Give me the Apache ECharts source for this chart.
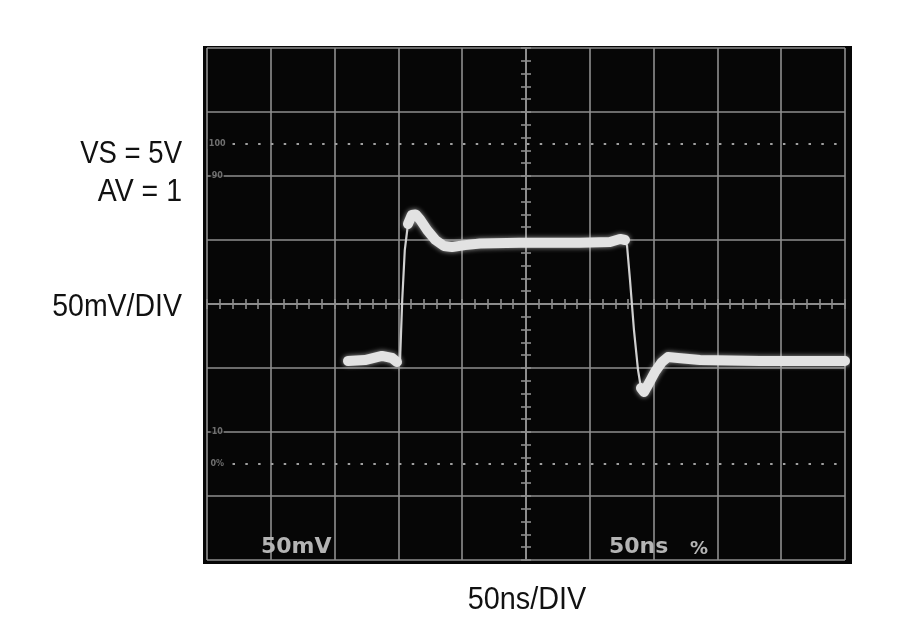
<!DOCTYPE html>
<html>
<head>
<meta charset="utf-8">
<script src="https://cdn.jsdelivr.net/npm/echarts@6/dist/echarts.min.js"></script>
<style>
html,body{margin:0;padding:0;background:#fff;}
#main{width:900px;height:630px;}
</style>
</head>
<body>
<div id="main"></div>
<script>
// Time relative to screen centre (ns) and trace level (mV)
const timeNs = [-139.5,-126.2,-112.9,-105.0,-101.1,-98.7,-97.0,-95.0,-92.5,-89.5,-86.5,-83.0,-77.5,-71.0,-64.3,-58.0,-47.8,-36.0,-4.7,42.3,65.8,73.7,77.6,79.2,81.5,84.6,87.8,90.1,92.5,95.6,101.1,106.6,111.3,119.1,136.4,183.4,214.7,250.0];
const traceMv = [-44.5,-43.8,-40.6,-42.2,-45.3,-43.8,3.1,42.0,62.5,69.5,70.0,66.0,57.8,50.0,45.3,44.5,46.0,47.3,47.9,47.9,48.4,50.8,50.0,45.3,18.8,-20.3,-51.6,-65.6,-68.8,-63.3,-53.1,-45.3,-41.4,-42.2,-43.8,-44.5,-44.5,-44.5];
const traceBright = [1,1,1,1,1,0,0,0,1,1,1,1,1,1,1,1,1,1,1,1,1,1,1,0,0,0,0,1,1,1,1,1,1,1,1,1,1,1];

// Graticule reference marks (mV) and their labels
const refDottedMv = [125, -125];
const refLabelMv = [125, 100, -100, -125];
const refLabelText = ['100', '90', '10', '0%'];

// Axis ranges (10 div x 50 ns, 8 div x 50 mV)
const xRange = [-250, 250];
const yRange = [-200, 200];
const divNs = 50, divMv = 50, minorNs = 10, minorMv = 10;

const sideText = ['VS = 5V', 'AV = 1', '50mV/DIV'];
const bottomText = '50ns/DIV';
const readouts = ['50mV', '50ns', '%'];

const gridCol = '#8e8e8e';
const chart = echarts.init(document.getElementById('main'), null, {renderer: 'canvas'});

const thinData = timeNs.map((t, i) => [t, traceMv[i]]);
const brightData = timeNs.map((t, i) => traceBright[i] ? [t, traceMv[i]] : [t, null]);

function tickAxis(pos, step, isX) {
  return {
    type: 'value', min: isX ? xRange[0] : yRange[0], max: isX ? xRange[1] : yRange[1],
    interval: step, position: pos,
    axisLine: {show: true, onZero: true, onZeroAxisIndex: 0, lineStyle: {color: gridCol, width: 1.6}},
    axisTick: {show: true, length: 5, inside: false, lineStyle: {color: gridCol, width: 1.6}},
    axisLabel: {show: false}, splitLine: {show: false}
  };
}
function mainAxis(isX) {
  return {
    type: 'value', min: isX ? xRange[0] : yRange[0], max: isX ? xRange[1] : yRange[1],
    interval: isX ? divNs : divMv, position: isX ? 'bottom' : 'left',
    axisLine: {show: false, onZero: false}, axisTick: {show: false}, axisLabel: {show: false},
    splitLine: {show: true, lineStyle: {color: gridCol, width: 1.6}}
  };
}

const markData = refDottedMv.map(v => [{coord: [xRange[0] + 20, v]}, {coord: [xRange[1], v]}]);

const labelFont = '32px "Liberation Sans", Arial, sans-serif';
const graphics = [
  {type: 'rect', z: -10, shape: {x: 203, y: 46, width: 649, height: 518}, style: {fill: '#060606'}},
];
const sideY = [154, 192, 307];
sideText.forEach((s, i) => graphics.push({
  type: 'text', x: 182, y: sideY[i], z: 10, scaleX: i === 0 ? 0.86 : 0.89,
  style: {text: s, font: labelFont, fill: '#111', align: 'right', verticalAlign: 'middle'}
}));
graphics.push({type: 'text', x: 527, y: 600, z: 10, scaleX: 0.9,
  style: {text: bottomText, font: labelFont, fill: '#111', align: 'center', verticalAlign: 'middle'}});
graphics.push({type: 'text', x: 261, y: 547, z: 10,
  style: {text: readouts[0], font: 'bold 22px "DejaVu Sans", sans-serif', fill: '#b4b4b4', align: 'left', verticalAlign: 'middle'}});
graphics.push({type: 'text', x: 609, y: 547, z: 10,
  style: {text: readouts[1], font: 'bold 22px "DejaVu Sans", sans-serif', fill: '#b4b4b4', align: 'left', verticalAlign: 'middle'}});
graphics.push({type: 'text', x: 690, y: 549, z: 10,
  style: {text: readouts[2], font: 'bold 18px "DejaVu Sans", sans-serif', fill: '#b4b4b4', align: 'left', verticalAlign: 'middle'}});

const option = {
  animation: false,
  backgroundColor: '#fff',
  grid: {left: 207, top: 48, width: 638, height: 512, show: false},
  xAxis: [mainAxis(true), tickAxis('bottom', minorNs, true), tickAxis('top', minorNs, true)],
  yAxis: [mainAxis(false), tickAxis('left', minorMv, false), tickAxis('right', minorMv, false)],
  graphic: graphics,
  series: [
    {
      type: 'line', xAxisIndex: 0, yAxisIndex: 0, data: [], silent: true,
      markLine: {
        silent: true, symbol: 'none', label: {show: false},
        lineStyle: {color: '#a0a0a0', width: 2.2, type: [2.5, 10.3]},
        data: markData
      }
    },
    {
      type: 'scatter', xAxisIndex: 0, yAxisIndex: 0, symbolSize: 0, silent: true,
      data: refLabelMv.map((v, i) => ({value: [xRange[0] + 8, v], label: {formatter: refLabelText[i]}})),
      label: {show: true, position: 'inside', color: '#8a8a8a', fontSize: 8, fontWeight: 'bold',
        backgroundColor: '#060606', padding: [1, 1], fontFamily: 'DejaVu Sans'}
    },
    {
      type: 'line', xAxisIndex: 0, yAxisIndex: 0, data: thinData, showSymbol: false, silent: true,
      lineStyle: {color: '#d0d0d0', width: 2.2}, z: 5
    },
    {
      type: 'line', xAxisIndex: 0, yAxisIndex: 0, data: brightData, showSymbol: false, silent: true,
      connectNulls: false,
      lineStyle: {color: '#e2e2e2', width: 10, cap: 'round', join: 'round', shadowBlur: 5, shadowColor: 'rgba(230,230,230,0.7)'}, z: 6
    }
  ]
};
chart.setOption(option);
</script>
</body>
</html>
